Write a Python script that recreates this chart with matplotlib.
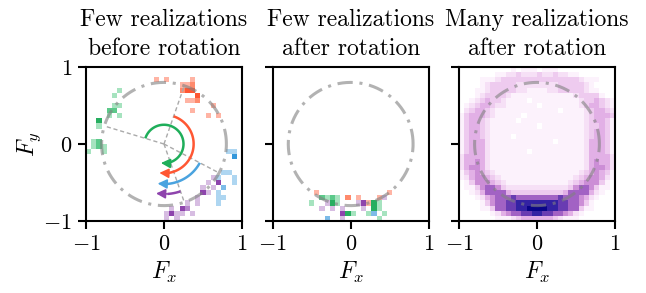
import numpy as np
import matplotlib
matplotlib.use('Agg')
import matplotlib.pyplot as plt
from matplotlib.colors import ListedColormap, LinearSegmentedColormap

plt.rcParams['font.family'] = 'serif'
plt.rcParams['font.serif'] = ['cmr10']
plt.rcParams['mathtext.fontset'] = 'cm'
plt.rcParams['axes.formatter.use_mathtext'] = True
plt.rcParams['font.size'] = 16

# 2d histogram grid, 30 x 30 bins over [-1, 1]
n_bins = 30
edges = np.linspace(-1, 1, n_bins + 1)

titles = ['Few realizations\nbefore rotation',
          'Few realizations\nafter rotation',
          'Many realizations\nafter rotation']

# few realizations, before rotation: (col, row, count)
green_before = [(5, 24, 1), (6, 25, 1), (5, 22, 1), (6, 22, 1), (4, 21, 2), (5, 21, 2),
                (4, 20, 1), (6, 20, 1), (2, 19, 3), (2, 18, 1), (1, 15, 1), (2, 15, 2),
                (1, 14, 1), (2, 14, 2), (3, 14, 1), (0, 13, 1), (3, 13, 1)]
red_before = [(13, 27, 1), (15, 27, 1), (20, 27, 1), (18, 26, 1), (19, 26, 1), (20, 26, 2),
              (18, 25, 2), (19, 25, 3), (20, 25, 3), (21, 24, 3), (19, 23, 1), (20, 23, 1),
              (21, 23, 2), (20, 21, 1), (23, 20, 1), (24, 22, 1), (25, 20, 1)]
blue_before = [(27, 13, 1), (28, 13, 1), (28, 12, 3), (26, 9, 1), (27, 9, 1), (25, 8, 1),
               (28, 8, 1), (28, 7, 1), (26, 6, 2), (25, 5, 1), (25, 4, 1), (26, 4, 1),
               (25, 3, 1)]
purple_before = [(25, 7, 3), (23, 7, 1), (24, 8, 1), (22, 6, 1), (24, 6, 1), (22, 5, 3),
                 (23, 5, 1), (21, 4, 1), (21, 3, 1), (19, 3, 1), (18, 2, 3), (19, 2, 2),
                 (16, 2, 1), (17, 1, 1), (18, 1, 1), (20, 1, 1), (15, 1, 1), (16, 1, 3),
                 (15, 0, 1), (17, 0, 1)]

# few realizations, after rotation
green_after = [(7, 3, 1), (9, 4, 2), (10, 4, 1), (11, 4, 2), (12, 4, 1), (12, 3, 1),
               (11, 3, 3), (14, 1, 3), (15, 1, 1), (19, 3, 3), (20, 3, 1), (19, 2, 3),
               (20, 2, 1), (18, 1, 1), (21, 1, 1), (20, 0, 1)]
red_after = [(8, 5, 1), (14, 4, 2), (16, 4, 1), (20, 4, 1), (22, 5, 1), (18, 3, 1)]
blue_after = [(10, 0, 2), (19, 1, 2)]
purple_after = [(10, 3, 1), (9, 2, 1), (11, 2, 1), (13, 2, 1), (13, 1, 3), (13, 0, 1),
                (16, 3, 1), (17, 3, 3), (17, 2, 1), (21, 4, 1)]

# many realizations, after rotation: density level 0-9, top row first
density_rows = [
    "000000000010111011100000000000",
    "000000011223222322322110000000",
    "000011123333333333333332111000",
    "000012333332222222233333210000",
    "000112333332211112233333211000",
    "000123333211111111111123333100",
    "001234332111101111111112334321",
    "012344322111111011111112344321",
    "023443211111111111101111234432",
    "134443211111011111111111234443",
    "134432111110111111111111234431",
    "134432111111111011111111233431",
    "134432111111111111111111234431",
    "134432111101111111111111234431",
    "134442111111111111011111244431",
    "134442111111111111111111244431",
    "134442111111101111111111244431",
    "244442111111111111111111244442",
    "244542111111111111111111245442",
    "245542111111111111111111245542",
    "134543211111111111111112345431",
    "124554321111111111111123455421",
    "013555432111111111111234555310",
    "011356653222222222222356653110",
    "001246666433333333334666642100",
    "000124566676666666676665421000",
    "000013566778888888877665310000",
    "000011366778899998877663110000",
    "000000124566778877665421000000",
    "000000011123444444321110000000",
]

# flat-ui style colours of the four clusters: light, mid, dark
group_colors = {
    'green': ['#a6e3bf', '#5cc98a', '#27ae60'],
    'red': ['#ffb4a4', '#ff8a6c', '#ff5733'],
    'blue': ['#aed6f1', '#7cbbe8', '#3498db'],
    'purple': ['#d7bde2', '#b583cc', '#8e44ad'],
}
arrow_colors = {'green': '#1fae5a', 'red': '#ff5733', 'blue': '#4aa3df', 'purple': '#8e44ad'}
density_colors = ['#ffffff', '#fcf2fc', '#f6e0f6', '#eecbef', '#e2b0e6',
                  '#cd8fd6', '#a262c4', '#6a3db2', '#3322a3', '#0a0588']

# mean angle of each cluster (deg) and radius of its rotation arrow
cluster_angle = {'green': 163, 'red': 71, 'blue': -28, 'purple': -71}
arc_radius = {'green': 0.25, 'red': 0.38, 'blue': 0.52, 'purple': 0.65}
circle_r = 0.8


def to_grid(cells):
    g = np.zeros((n_bins, n_bins))
    for c, r, n in cells:
        g[r, c] = n
    return np.ma.masked_equal(g, 0)


def draw_cells(ax, groups):
    for name, cells in groups:
        cmap = ListedColormap(group_colors[name])
        ax.pcolormesh(edges, edges, to_grid(cells), cmap=cmap, vmin=0.5, vmax=3.5, zorder=1)


def draw_circle(ax):
    t = np.linspace(0, 2 * np.pi, 400)
    ax.plot(circle_r * np.cos(t), circle_r * np.sin(t), color='gray', alpha=0.6,
            lw=2.2, ls=(0, (5, 2.2, 1, 2.2)), zorder=3)


fig = plt.figure(figsize=(6.46, 2.93), dpi=100)
lefts = [0.1331, 0.4221, 0.7105]
axes = [fig.add_axes([l, 0.2457, 0.2415, 0.5256]) for l in lefts]

draw_cells(axes[0], [('green', green_before), ('red', red_before),
                     ('blue', blue_before), ('purple', purple_before)])
draw_cells(axes[1], [('green', green_after), ('red', red_after),
                     ('blue', blue_after), ('purple', purple_after)])

dens = np.array([[int(ch) for ch in row] for row in density_rows])[::-1]
dens_cmap = LinearSegmentedColormap.from_list('dens', density_colors)
axes[2].pcolormesh(edges, edges, dens, cmap=dens_cmap, vmin=0, vmax=9, zorder=1)

# dashed lines to the clusters and rotation arrows
ax = axes[0]
for name in ['green', 'red', 'blue', 'purple']:
    a = np.radians(cluster_angle[name])
    ax.plot([0, circle_r * np.cos(a)], [0, circle_r * np.sin(a)], color='#aaaaaa',
            lw=1.0, ls=(0, (3, 2)), zorder=2)
    r = arc_radius[name]
    th = np.radians(np.linspace(cluster_angle[name], -86, 100))
    ax.plot(r * np.cos(th), r * np.sin(th), color=arrow_colors[name], lw=1.8,
            zorder=4, solid_capstyle='butt')
    a0, a1 = np.radians(-86), np.radians(-99)
    ax.annotate('', xy=(r * np.cos(a1), r * np.sin(a1)), xytext=(r * np.cos(a0), r * np.sin(a0)),
                arrowprops=dict(arrowstyle='-|>,head_length=0.55,head_width=0.28',
                                color=arrow_colors[name], lw=1.2, shrinkA=0, shrinkB=0,
                                mutation_scale=10), zorder=5)

for i, ax in enumerate(axes):
    draw_circle(ax)
    ax.set_xlim(-1, 1)
    ax.set_ylim(-1, 1)
    ax.set_xticks([-1, 0, 1])
    ax.set_yticks([-1, 0, 1])
    ax.tick_params(direction='out', length=6, width=1.5, labelsize=16, pad=4)
    for s in ax.spines.values():
        s.set_linewidth(1.5)
    ax.set_xlabel('$F_x$', fontsize=17, labelpad=4)
    ax.set_title(titles[i], fontsize=17, linespacing=1.35, pad=9)
    if i == 0:
        ax.set_ylabel('$F_y$', fontsize=17, labelpad=0)
    else:
        ax.tick_params(labelleft=False)

fig.savefig('out.png', dpi=100)
